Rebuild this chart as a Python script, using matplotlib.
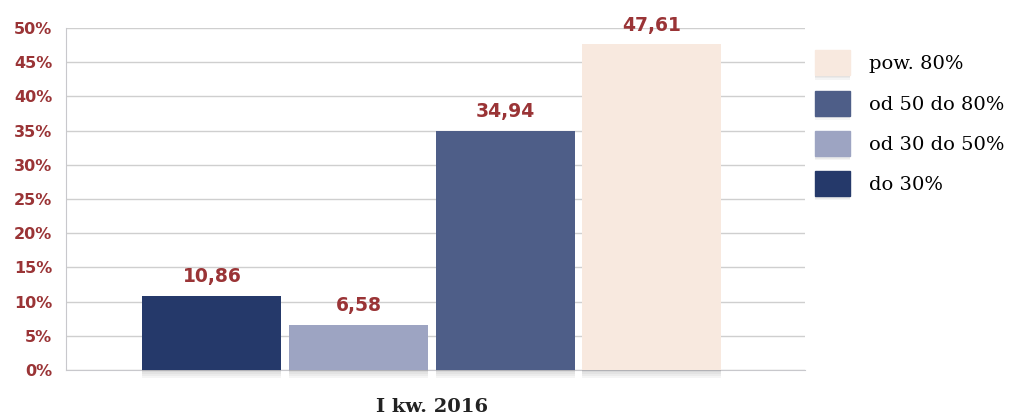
import matplotlib
matplotlib.use("Agg")
import matplotlib.pyplot as plt
import matplotlib.patches as mpatches
import matplotlib.patheffects as pe

# udział kredytów wg wskaźnika LtV, I kw. 2016
categories = ["do 30%", "od 30 do 50%", "od 50 do 80%", "pow. 80%"]
values = [10.86, 6.58, 34.94, 47.61]
colors = ["#25396a", "#9da4c2", "#4e5e88", "#f8e9df"]
yticks = [0, 5, 10, 15, 20, 25, 30, 35, 40, 45, 50]
period = "I kw. 2016"

label_red = "#9a3436"


def soft_shadow(steps, dy, alpha):
    # a few stacked, offset shadows fake a blurred drop shadow
    effects = [pe.SimplePatchShadow(offset=(0, -dy * (i + 1)), shadow_rgbFace="#7a7a7a", alpha=alpha)
               for i in range(steps)]
    return effects + [pe.Normal()]


fig = plt.figure(figsize=(10.24, 4.19), dpi=100)
ax = fig.add_axes([66 / 1024, 1 - 370 / 419, 739 / 1024, 342 / 419])

offsets = [-1.5, -0.5, 0.5, 1.5]
width = 0.947
for off, v, c in zip(offsets, values, colors):
    b = ax.bar(off, v, width=width, color=c, zorder=3, clip_on=False)
    b[0].set_path_effects(soft_shadow(4, 1.5, 0.07))
    ax.text(off, v + 1.4, f"{v:.2f}".replace(".", ","), ha="center", va="bottom",
            fontsize=13.5, fontweight="bold", color=label_red, zorder=4)

ax.set_xlim(-2.495, 2.545)
ax.set_ylim(0, 50)
ax.set_yticks(yticks)
ax.set_yticklabels([f"{t}%" for t in yticks], fontsize=11.5, fontweight="bold", color=label_red)
ax.tick_params(axis="y", length=0, pad=10)
ax.set_xticks([])
ax.yaxis.grid(True, color="#cfcfcf", linewidth=1, zorder=0)
ax.set_axisbelow(True)
for s in ["top", "right"]:
    ax.spines[s].set_visible(False)
ax.spines["left"].set_color("#c8c8cc")
ax.spines["bottom"].set_color("#c8c8cc")

fig.text(432 / 1024, 1 - 407 / 419, period, ha="center", va="center",
         fontsize=14, fontweight="bold", family="DejaVu Serif", color="#222222")

handles = [mpatches.Patch(color=c, label=l) for c, l in zip(colors, categories)][::-1]
leg = fig.legend(handles=handles, loc="upper left", bbox_to_anchor=(797 / 1024, 1 - 33 / 419),
                 frameon=False, handlelength=1.85, handleheight=1.6, handletextpad=0.95,
                 labelspacing=0.78, prop={"family": "DejaVu Serif", "size": 14})
for h in leg.legend_handles:
    h.set_path_effects(soft_shadow(3, 1, 0.08))

fig.savefig("out.png", dpi=100)
